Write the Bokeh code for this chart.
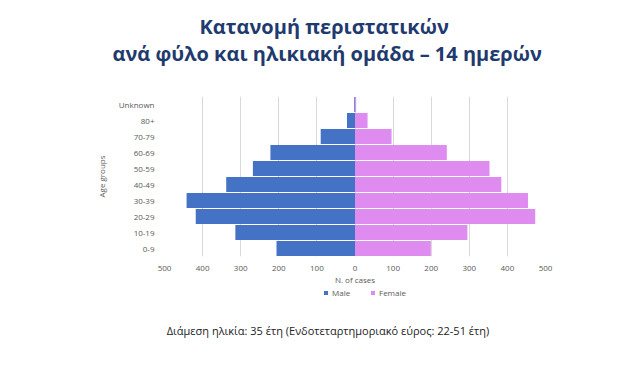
from bokeh.plotting import figure
from bokeh.layouts import column
from bokeh.models import Legend, LegendItem, FixedTicker, ColumnDataSource, FactorRange, Label, Range1d, Title
from bokeh.embed import file_html
from bokeh.resources import INLINE

age_groups = ["0-9", "10-19", "20-29", "30-39", "40-49", "50-59", "60-69", "70-79", "80+", "Unknown"]
male = [206, 314, 418, 442, 338, 268, 222, 90, 21, 2]
female = [199, 295, 473, 454, 384, 353, 241, 96, 33, 3]
x_ticks = [-500, -400, -300, -200, -100, 0, 100, 200, 300, 400, 500]
x_tick_labels = ["500", "400", "300", "200", "100", "0", "100", "200", "300", "400", "500"]
series_names = ["Male", "Female"]
series_colors = ["#4472C4", "#DE8CF0"]

title_lines = ["Κατανομή περιστατικών", "ανά φύλο και ηλικιακή ομάδα – 14 ημερών"]
subtitle = "Διάμεση ηλικία: 35 έτη (Ενδοτεταρτημοριακό εύρος: 22-51 έτη)"

W = 624
TITLE_COLOR = "#1F3A6E"


def blank_fig(h, top=0):
    f = figure(width=W, height=h, output_backend="svg", toolbar_location=None,
               x_range=Range1d(0, 1), y_range=Range1d(0, 1), title_location=None,
               min_border=0, min_border_left=0, min_border_right=0,
               min_border_top=top, min_border_bottom=0)
    f.axis.visible = False
    f.grid.visible = False
    f.outline_line_color = None
    return f


# ---- header with the two title lines (as titles in the side panel)
head = blank_fig(96, top=65)
head.add_layout(Title(text=title_lines[1], align="left", offset=-52, standoff=-3,
                      text_font="Open Sans", text_font_style="bold",
                      text_font_size="20px", text_color=TITLE_COLOR), "above")
head.add_layout(Title(text=title_lines[0], align="left", offset=35, standoff=0,
                      text_font="Open Sans", text_font_style="bold",
                      text_font_size="20px", text_color=TITLE_COLOR), "above")

# ---- main chart
src = ColumnDataSource(dict(
    age=age_groups,
    m_left=[-v for v in male],
    f_right=female,
    zero=[0] * len(age_groups),
))

p = figure(width=W, height=191, output_backend="svg", toolbar_location=None,
           y_range=FactorRange(*age_groups, range_padding=0), x_range=Range1d(-500, 500),
           min_border_left=164, min_border_right=79, min_border_top=0, min_border_bottom=31)
p.outline_line_color = None

p.hbar(y="age", left="m_left", right="zero", height=0.93, source=src,
       fill_color=series_colors[0], line_color=None)
p.hbar(y="age", left="zero", right="f_right", height=0.93, source=src,
       fill_color=series_colors[1], line_color=None)

p.xaxis.ticker = FixedTicker(ticks=x_ticks)
p.xaxis.major_label_overrides = {t: l for t, l in zip(x_ticks, x_tick_labels)}
for ax in (p.xaxis, p.yaxis):
    ax.axis_line_color = None
    ax.major_tick_line_color = None
    ax.minor_tick_line_color = None
    ax.major_label_text_font = "Open Sans"
    ax.major_label_text_font_size = "8px"
    ax.major_label_text_color = "#595959"
    ax.axis_label_text_font = "Open Sans"
    ax.axis_label_text_font_size = "8px"
    ax.axis_label_text_color = "#595959"
    ax.axis_label_text_font_style = "normal"
p.xaxis.major_label_standoff = 3
p.yaxis.major_label_standoff = 4
p.xaxis.axis_label = "N. of cases"
p.xaxis.axis_label_standoff = 0
p.yaxis.axis_label = "Age groups"
p.yaxis.axis_label_standoff = 9

p.ygrid.grid_line_color = None
p.xgrid.ticker = FixedTicker(ticks=x_ticks)
p.xgrid.grid_line_color = "#D9D9D9"
p.xgrid.grid_line_width = 1

# ---- footer with legend and subtitle
foot = blank_fig(64)
items = []
for name, col in zip(series_names, series_colors):
    # zero-width proxy bars (from the same data source) that only feed the legend swatches
    r = foot.hbar(y="zero", left="zero", right="zero", height=0.01, source=src,
                  fill_color=col, line_color=None)
    items.append(LegendItem(label=name, renderers=[r]))
legend = Legend(items=items, orientation="horizontal", location=(159, 53),
                label_text_font="Open Sans", label_text_font_size="8px",
                label_text_color="#595959", glyph_width=5, glyph_height=5,
                label_standoff=4, spacing=18, padding=0, margin=0,
                background_fill_alpha=0, border_line_color=None, label_height=10)
foot.add_layout(legend)
foot.add_layout(Label(x=163.5, y=21, x_units="screen", y_units="screen", text=subtitle,
                      text_align="center", text_baseline="alphabetic",
                      text_font="Open Sans", text_font_size="11px", text_color="#222222"))

layout = column(head, p, foot, spacing=0)
open("out.html", "w").write(file_html(layout, INLINE))
